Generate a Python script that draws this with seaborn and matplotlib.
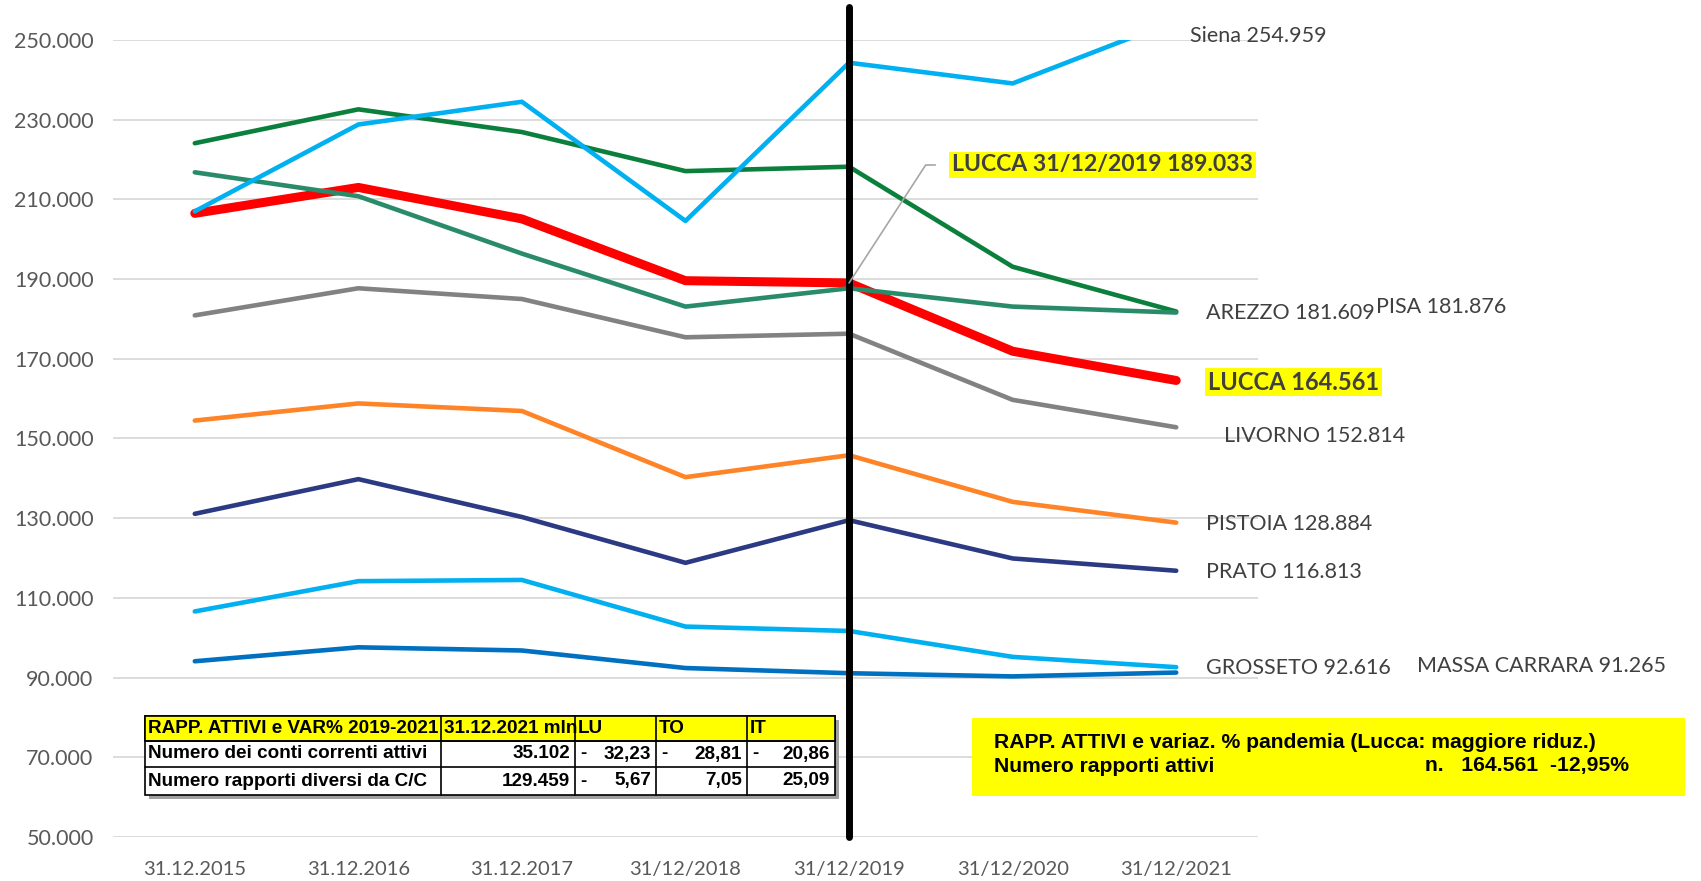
import matplotlib
matplotlib.use('Agg')
import matplotlib.pyplot as plt
from matplotlib.patches import Rectangle
import numpy as np
import pandas as pd
import seaborn as sns

sns.set_style('white')

# --- dati ---
dates = ['31.12.2015', '31.12.2016', '31.12.2017', '31/12/2018',
         '31/12/2019', '31/12/2020', '31/12/2021']
lucca = [206500, 213000, 205100, 189600, 189033, 171900, 164561]
siena = [207000, 228800, 234500, 204600, 244300, 239100, 254959]
pisa = [224100, 232600, 226900, 217100, 218200, 193100, 181876]
arezzo = [216800, 210800, 196400, 183100, 187700, 183100, 181609]
livorno = [180900, 187700, 185000, 175400, 176300, 159700, 152814]
pistoia = [154500, 158800, 156900, 140300, 145800, 134100, 128884]
prato = [131100, 139800, 130300, 118800, 129500, 119900, 116813]
grosseto = [106600, 114200, 114500, 102800, 101700, 95200, 92616]
massa = [94100, 97600, 96800, 92400, 91100, 90300, 91265]

series = {
    'LUCCA': (lucca, '#FF0000', 6.5),
    'PISA': (pisa, '#0B7F3C', 3.3),
    'AREZZO': (arezzo, '#2A8B6B', 3.3),
    'LIVORNO': (livorno, '#828282', 3.3),
    'PISTOIA': (pistoia, '#FF8427', 3.3),
    'PRATO': (prato, '#2B3A82', 3.3),
    'GROSSETO': (grosseto, '#00B0F0', 3.3),
    'MASSA CARRARA': (massa, '#0070C0', 3.3),
    'Siena': (siena, '#00B0F0', 3.3),
}

table_head = ['RAPP. ATTIVI e VAR% 2019-2021', '31.12.2021 mln', 'LU', 'TO', 'IT']
table_rows = ['Numero dei conti correnti attivi', 'Numero rapporti diversi da C/C']
table_tot = [35.102, 129.459]
var_lu = [-32.23, -5.67]
var_to = [-28.81, 7.05]
var_it = [-20.86, 25.09]


def fmt_int(v):
    return f'{v:,.0f}'.replace(',', '.')


def fmt_dec(v):
    return f'{v:.2f}'.replace('.', ',')


W, H = 1701, 881
fig = plt.figure(figsize=(W / 100, H / 100), dpi=100)
ax = fig.add_axes([113 / W, 44 / H, 1145 / W, 797 / H])

x = np.arange(len(dates))
for name, (vals, col, lw) in series.items():
    d = pd.DataFrame({'x': x, 'v': vals})
    sns.lineplot(data=d, x='x', y='v', ax=ax, color=col, linewidth=lw,
                 sort=False, solid_capstyle='round', solid_joinstyle='round')

ax.set_xlim(-0.5, len(dates) - 0.5)
ax.set_ylim(50000, 250000)
ax.set_yticks(np.arange(50000, 250001, 20000))
ax.set_yticklabels([fmt_int(v) for v in np.arange(50000, 250001, 20000)],
                   fontsize=15.5, color='#595959', family='Lato')
ax.set_xticks(x)
ax.set_xticklabels(dates, fontsize=14.5, color='#595959', family='Lato')
ax.tick_params(axis='both', length=0)
ax.tick_params(axis='y', pad=14)
ax.tick_params(axis='x', pad=17)
ax.set_xlabel('')
ax.set_ylabel('')
ax.yaxis.grid(True, color='#D9D9D9', linewidth=1.3)
ax.set_axisbelow(True)
for s in ax.spines.values():
    s.set_visible(False)

# linea verticale 2019
ax.axvline(4, ymin=0, ymax=1 + 33 / 797, color='black', lw=5, clip_on=False, zorder=5)

# overlay in pixel per etichette, tabella e riquadro
ov = fig.add_axes([0, 0, 1, 1], zorder=10)
ov.set_xlim(0, W)
ov.set_ylim(H, 0)
ov.axis('off')

lab_c = '#404040'
lab = dict(fontsize=15.5, color=lab_c, family='Lato', va='center', ha='left')
ov.text(1190, 36, f'Siena {fmt_int(siena[-1])}', **lab)
ov.text(1206, 313, f'AREZZO {fmt_int(arezzo[-1])}', **lab)
ov.text(1376, 307, f'PISA {fmt_int(pisa[-1])}', **lab)
ov.text(1224, 436, f'LIVORNO {fmt_int(livorno[-1])}', **lab)
ov.text(1206, 524, f'PISTOIA {fmt_int(pistoia[-1])}', **lab)
ov.text(1206, 572, f'PRATO {fmt_int(prato[-1])}', **lab)
ov.text(1206, 668, f'GROSSETO {fmt_int(grosseto[-1])}', **lab)
ov.text(1417, 666, f'MASSA CARRARA {fmt_int(massa[-1])}', **lab)
ov.text(1208, 382, f'LUCCA {fmt_int(lucca[-1])}', fontsize=17, fontweight='bold',
        color=lab_c, family='Lato', va='center', ha='left',
        bbox=dict(boxstyle='square,pad=0.12', fc='#FFFF00', ec='none'))
ov.annotate(f'LUCCA {dates[4]} {fmt_int(lucca[4])}', xy=(4, lucca[4]), xycoords=ax.transData,
            xytext=(952, 165), textcoords='data', fontsize=16.6, fontweight='bold',
            color=lab_c, family='Lato', va='center', ha='left',
            bbox=dict(boxstyle='square,pad=0.12', fc='#FFFF00', ec='none'),
            arrowprops=dict(arrowstyle='-', color='#A6A6A6', lw=1.2, relpos=(0, 0.5),
                            shrinkA=10, shrinkB=0,
                            connectionstyle='angle,angleA=0,angleB=57,rad=0'))

# tabella
cx = [145, 441, 575, 656, 747, 835]
ry = [716, 741, 767, 795]
ov.add_patch(Rectangle((cx[0] + 4, ry[0] + 4), cx[-1] - cx[0], ry[-1] - ry[0],
                       fc='#A0A0A0', ec='none', zorder=1))
ov.add_patch(Rectangle((cx[0], ry[0]), cx[-1] - cx[0], ry[-1] - ry[0],
                       fc='white', ec='black', lw=1.2, zorder=2))
ov.add_patch(Rectangle((cx[0], ry[0]), cx[-1] - cx[0], ry[1] - ry[0],
                       fc='#FFFF00', ec='black', lw=1.2, zorder=2))
for xx in cx[1:-1]:
    ov.plot([xx, xx], [ry[0], ry[-1]], color='black', lw=1.2, zorder=3)
for yy in ry[1:-1]:
    ov.plot([cx[0], cx[-1]], [yy, yy], color='black', lw=1.2, zorder=3)
tf = dict(fontsize=13.6, fontweight='bold', color='black', family='Liberation Sans',
          va='center', zorder=4)
for i, h in enumerate(table_head):
    ov.text(cx[i] + 3, (ry[0] + ry[1]) / 2, h, ha='left', **tf)
for r in range(2):
    yc = (ry[r + 1] + ry[r + 2]) / 2
    ov.text(cx[0] + 3, yc, table_rows[r], ha='left', **tf)
    ov.text(cx[2] - 5, yc, f'{table_tot[r]:.3f}', ha='right', **tf)
    for j, v in enumerate([var_lu[r], var_to[r], var_it[r]]):
        if v < 0:
            ov.text(cx[2 + j] + 5, yc, '-', ha='left', **tf)
        ov.text(cx[3 + j] - 5, yc, fmt_dec(abs(v)), ha='right', **tf)

# riquadro giallo
pct = (lucca[-1] / lucca[4] - 1) * 100
ov.add_patch(Rectangle((972, 718), 713, 78, fc='#FFFF00', ec='none', zorder=1))
bf = dict(fontsize=15.2, fontweight='bold', color='black', family='Liberation Sans',
          va='center', ha='left', zorder=4)
ov.text(994, 742, 'RAPP. ATTIVI e variaz. % pandemia (Lucca: maggiore riduz.)', **bf)
ov.text(994, 766, 'Numero rapporti attivi', **bf)
ov.text(1425, 766, f'n.   {fmt_int(lucca[-1])}  {fmt_dec(pct)}%', **bf)

plt.savefig('out.png', dpi=100)
